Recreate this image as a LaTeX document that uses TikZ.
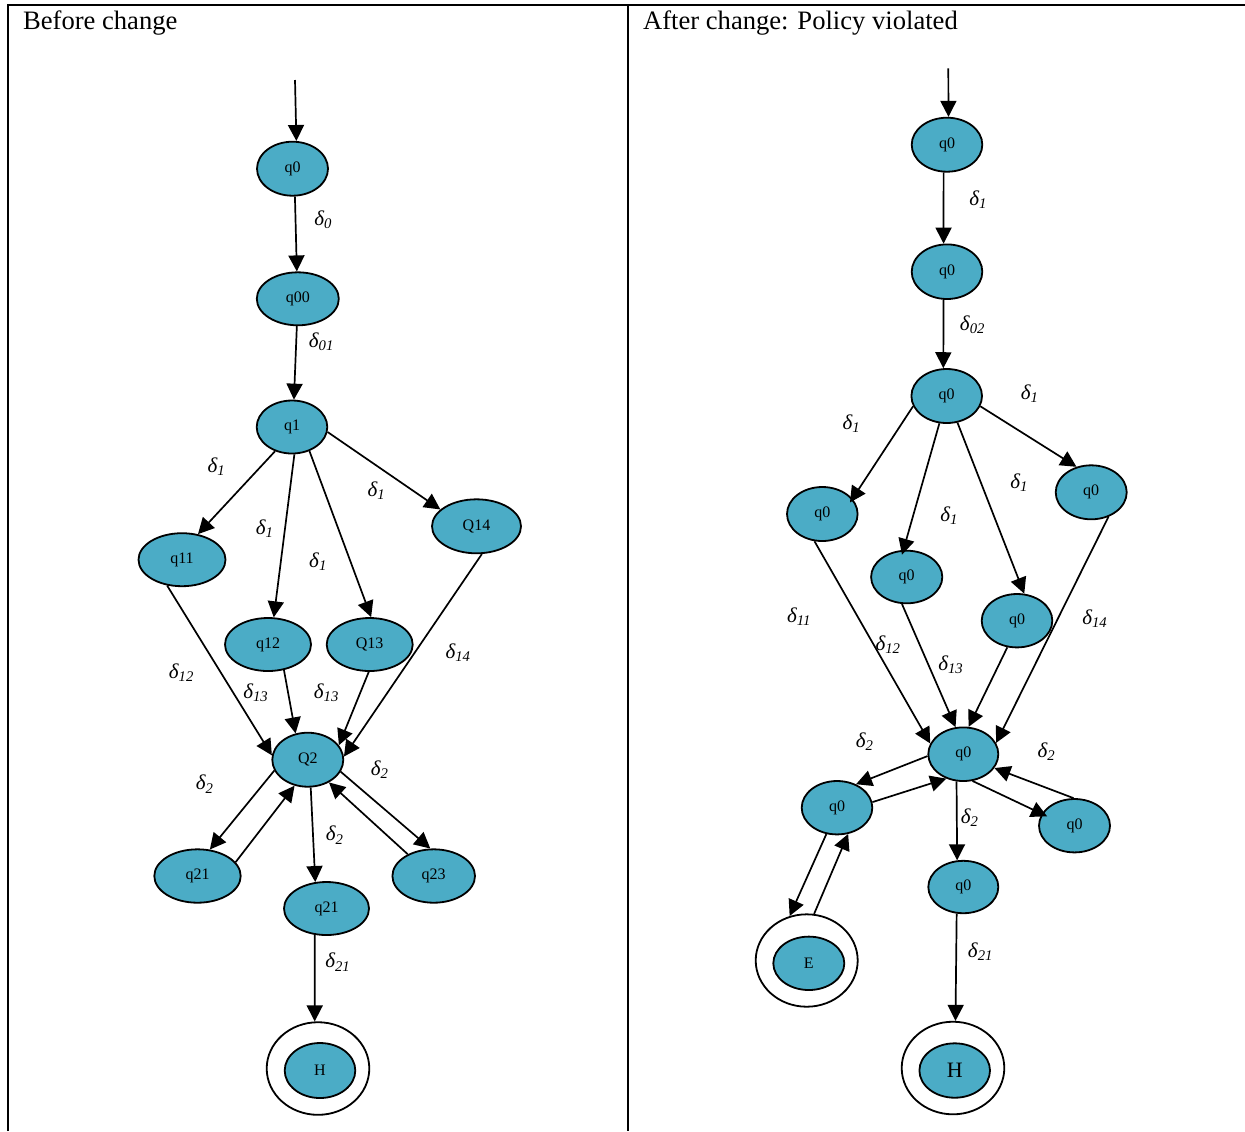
\documentclass[tikz,border=0pt]{standalone}
\usepackage{fontspec}
\setmainfont{Liberation Serif}
\usetikzlibrary{arrows.meta,shapes.geometric}
\definecolor{stfill}{RGB}{75,172,198}
\newcommand{\dl}[1]{δ\textsubscript{#1}}

\begin{document}
\begin{tikzpicture}[x=0.5pt,y=-0.5pt,
  state/.style={ellipse, draw, line width=0.9pt, fill=stfill, inner sep=0pt,
    font=\fontsize{8}{10}\selectfont},
  ring/.style={ellipse, draw, line width=0.9pt, fill=white, inner sep=0pt},
  sz/.style 2 args={minimum width=#1pt, minimum height=#2pt},
  tr/.style={-{Triangle[length=8pt,width=8pt]}, line width=0.85pt},
  lbl/.style={font=\fontsize{10.5}{12}\selectfont\itshape, inner sep=0pt},
  title/.style={font=\fontsize{13.3}{15}\selectfont, anchor=base west, inner sep=0pt},
  frame/.style={line width=1pt},
]
\useasboundingbox (0,0) rectangle (1245,1131);

% table frame
\draw[frame] (8,1131) -- (8,4.5) -- (1245,4.5);
\draw[frame] (628,4.5) -- (628,1131);
\node[title] (t1) at (22.7,29.3) {Before change};
\node[title] (t2) at (642.7,29.3) {After change: Policy violated};

% ---------------- left automaton ----------------
\coordinate (sL) at (295,80);
\node[state, sz={35.5}{27}] (q0) at (292.5,168.7) {q0};
\node[state, sz={41}{26.5}] (q00) at (297.8,298.8) {q00};
\node[state, sz={35.3}{26.5}] (q1) at (292,427) {q1};
\node[state, sz={43.5}{26.5}] (q11) at (182,559.7) {q11};
\node[state, sz={43}{26.5}] (q12) at (268,644.5) {q12};
\node[state, sz={43}{26.5}] (Q13) at (369.7,644.5) {Q13};
\node[state, sz={44.5}{27}] (Q14) at (476.5,526.3) {Q14};
\node[state, sz={35.5}{27}] (Q2) at (307.8,759.7) {Q2};
\node[state, sz={43.2}{26.7}] (q21a) at (197.5,876) {q21};
\node[state, sz={42.5}{26.5}] (q21b) at (326.5,908.5) {q21};
\node[state, sz={41.3}{26.7}] (q23) at (433.7,876) {q23};
\node[ring, sz={51.3}{46.3}] (hL) at (318,1068.5) {};
\node[state, sz={35.3}{27.5}] (hLin) at (320,1070.5) {H};

\draw[tr] (sL) -- (q0.82);
\draw[tr] (q0.-85) -- (q00.92);
\draw[tr] (q00.-92) -- (q1.86);
\draw[tr] (q1.-125.6) -- (q11.58.3);
\draw[tr] (q1.-85.5) -- (q12.78.6);
\draw[tr] (q1.-54.6) -- (Q13.87.8);
\draw[tr] (q1.-8.3) -- (Q14.155);
\draw[tr] (q11.-120.6) -- (Q2.173.5);
\draw[tr] (q12.-58) -- (Q2.115.4);
\draw[tr] (Q13.-92.8) -- (Q2.25);
\draw[tr] (Q14.-79.4) -- (Q2.5);
\draw[tr] (Q2.-162.6) -- (q21a.65.7);
\draw[tr] (q21a.20.6) -- (Q2.-117);
\draw[tr] (Q2.-84) -- (q21b.113.7);
\draw[tr] (Q2.-20.4) -- (q23.97.9);
\draw[tr] (q23.140.8) -- (Q2.-47.8);
\draw[tr] (q21b.-114.7) -- (hL.94);

\node[lbl] (l1) at (323.3,220) {\dl{0}};
\node[lbl] (l2) at (321.7,341.7) {\dl{01}};
\node[lbl] (l3) at (216.7,466.7) {\dl{1}};
\node[lbl] (l4) at (265,528.3) {\dl{1}};
\node[lbl] (l5) at (318.3,561.7) {\dl{1}};
\node[lbl] (l6) at (376.7,490.7) {\dl{1}};
\node[lbl] (l7) at (458.3,652.3) {\dl{14}};
\node[lbl] (l8) at (181.7,672.7) {\dl{12}};
\node[lbl] (l9) at (256,692.7) {\dl{13}};
\node[lbl] (l10) at (326.7,692.7) {\dl{13}};
\node[lbl] (l11) at (205,784) {\dl{2}};
\node[lbl] (l12) at (380,769.3) {\dl{2}};
\node[lbl] (l13) at (335,835) {\dl{2}};
\node[lbl] (l14) at (338,962) {\dl{21}};

% ---------------- right automaton ----------------
\coordinate (sR) at (948.3,68.3);
\node[state, sz={35.3}{27}] (a0) at (947,144.7) {q0};
\node[state, sz={35.3}{27.3}] (a1) at (947,271.7) {q0};
\node[state, sz={35.3}{27}] (a2) at (946.7,396) {q0};
\node[state, sz={35.3}{27}] (b1) at (822.3,514) {q0};
\node[state, sz={35.6}{26.3}] (b2) at (906.7,577) {q0};
\node[state, sz={35.3}{26.7}] (b3) at (1017,620.7) {q0};
\node[state, sz={35.5}{27}] (b4) at (1091.2,492.3) {q0};
\node[state, sz={35}{26.8}] (c) at (963.3,754.2) {q0};
\node[state, sz={35.3}{26.7}] (d) at (837,807.7) {q0};
\node[state, sz={35.5}{26.7}] (f) at (1074.5,825.7) {q0};
\node[state, sz={35}{26.2}] (g) at (963.3,887) {q0};
\node[ring, sz={51}{46.2}] (eR) at (806.7,960.5) {};
\node[state, sz={35.5}{26.7}] (eRin) at (808.8,963.3) {E};
\node[ring, sz={51.3}{46.3}] (hR) at (953,1068) {};
\node[state, sz={35.3}{27.2}, font=\fontsize{11}{13}\selectfont] (hRin) at (954.7,1070.5) {H};

\draw[tr] (sR) -- (a0.87);
\draw[tr] (a0.-97.8) -- (a1.97.7);
\draw[tr] (a1.-97.7) -- (a2.97);
\draw[tr, shorten >=-2.3pt] (a2.-163) -- (b1.27);
\draw[tr, shorten >=-2.5pt] (a2.-105) -- (b2.97.6);
\draw[tr] (a2.-68.8) -- (b3.75);
\draw[tr] (a2.-17) -- (b4.120.7);
\draw[tr] (b1.-106) -- (c.162.6);
\draw[tr] (b2.-100) -- (c.106.8);
\draw[tr] (b3.-110) -- (c.79.7);
\draw[tr] (b4.-55) -- (c.19.1);
\draw[tr] (c.-177) -- (d.51.4);
\draw[tr] (d.9.6) -- (c.-125.8);
\draw[tr, shorten >=-3pt] (c.-71.4) -- (f.160);
\draw[tr] (f.92) -- (c.-24.3);
\draw[tr] (c.-104) -- (g.103.4);
\draw[tr] (d.-112.5) -- (eR.111.3);
\draw[tr] (eR.81.2) -- (d.-67);
\draw[tr] (g.-104) -- (hR.87);

\node[lbl] (r1) at (978.3,200) {\dl{1}};
\node[lbl] (r2) at (972.7,325) {\dl{02}};
\node[lbl] (r3) at (1030,393.3) {\dl{1}};
\node[lbl] (r4) at (851.7,424) {\dl{1}};
\node[lbl] (r5) at (1019.3,482.7) {\dl{1}};
\node[lbl] (r6) at (949.3,516) {\dl{1}};
\node[lbl] (r7) at (799.3,616.7) {\dl{11}};
\node[lbl] (r8) at (888.3,645) {\dl{12}};
\node[lbl] (r9) at (951,665) {\dl{13}};
\node[lbl] (r10) at (1095,618.3) {\dl{14}};
\node[lbl] (r11) at (865,741.7) {\dl{2}};
\node[lbl] (r12) at (1046.7,751.7) {\dl{2}};
\node[lbl] (r13) at (970,817.3) {\dl{2}};
\node[lbl] (r14) at (980.7,951.7) {\dl{21}};
\end{tikzpicture}
\end{document}
